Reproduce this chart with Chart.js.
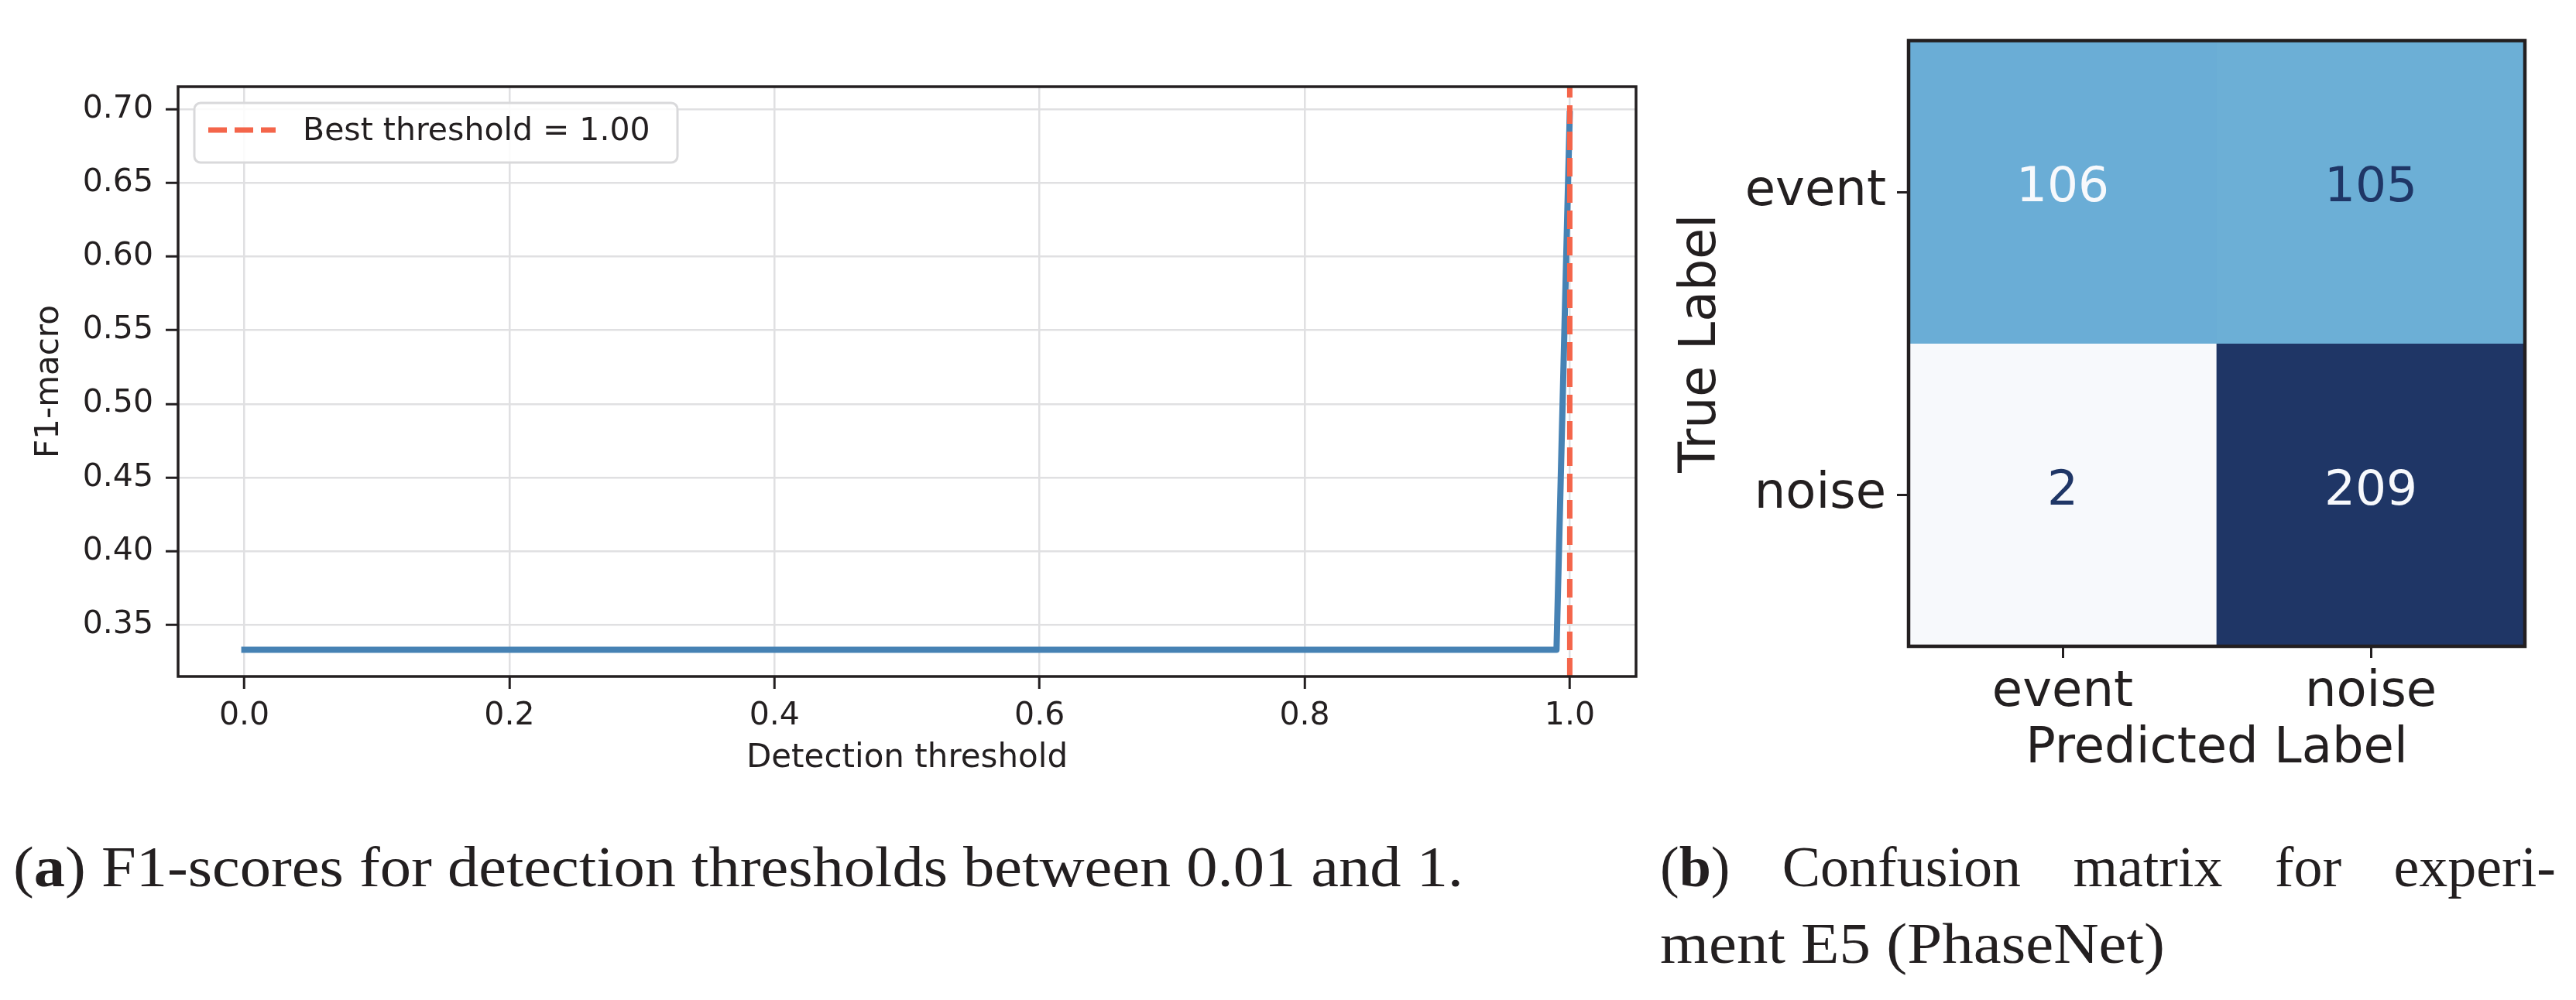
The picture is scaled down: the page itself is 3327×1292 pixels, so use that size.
<!DOCTYPE html>
<html>
<head>
<meta charset="utf-8">
<script src="https://cdn.jsdelivr.net/npm/chart.js@4.4.1/dist/chart.umd.min.js"></script>
<style>
  html, body { margin: 0; padding: 0; background: #fff; }
  #page { position: relative; width: 3327px; height: 1292px; overflow: hidden; background: #fff; }
  canvas { position: absolute; }
  .cap { position: absolute; font-family: "Liberation Serif", serif; font-size: 74px; line-height: 74px;
         color: #231f20; white-space: nowrap; transform-origin: 0 0; }
  #capB1 { display: flex; justify-content: space-between; width: 1157px; }
</style>
</head>
<body>
<div id="page">
  <canvas id="f1Chart" width="2200" height="1040" style="left:0;top:0"></canvas>
  <canvas id="cmChart" width="1207" height="1040" style="left:2120px;top:0"></canvas>
  <div class="cap" id="capA" style="left:17px;top:1083px" data-w="1873">(<b>a</b>) F1-scores for detection thresholds between 0.01 and 1.</div>
  <div class="cap" id="capB1" style="left:2144px;top:1083px"><span>(<b>b</b>)</span><span>Confusion</span><span>matrix</span><span>for</span><span>experi-</span></div>
  <div class="cap" id="capB2" style="left:2144px;top:1182px" data-w="652">ment E5 (PhaseNet)</div>
</div>
<script>
// ---- left panel: F1-macro vs detection threshold ----
var thresholds = [0.00, 0.10, 0.20, 0.30, 0.40, 0.50, 0.60, 0.70, 0.80, 0.90, 0.95, 0.99, 1.00];
var f1Macro    = [0.333, 0.333, 0.333, 0.333, 0.333, 0.333, 0.333, 0.333, 0.333, 0.333, 0.333, 0.333, 0.697];
var bestThreshold = 1.00;
var xTicks = [0.0, 0.2, 0.4, 0.6, 0.8, 1.0];
var yTicks = [0.35, 0.40, 0.45, 0.50, 0.55, 0.60, 0.65, 0.70];
var xLimits = [-0.05, 1.05];
var yLimits = [0.3148, 0.7155];

// ---- right panel: confusion matrix ----
var trueLabels = ['event', 'noise'];
var predLabels = ['event', 'noise'];
var cmValues = [
    [106, 105],
    [2, 209]
];

var INK = '#231f20';
var SANS = '"DejaVu Sans", sans-serif';
var blues = ['#f7f9fc', '#deebf7', '#c6dbef', '#9ecae1', '#6baed6', '#4292c6', '#2f6fb0', '#254f8c', '#1f3666'];

function hexToRgb(h) {
    return [parseInt(h.substr(1, 2), 16), parseInt(h.substr(3, 2), 16), parseInt(h.substr(5, 2), 16)];
}

function bluesColor(t) {
    t = Math.max(0, Math.min(1, t));
    var pos = t * (blues.length - 1);
    var i = Math.min(Math.floor(pos), blues.length - 2);
    var f = pos - i;
    var a = hexToRgb(blues[i]), b = hexToRgb(blues[i + 1]);
    var c = a.map(function (v, k) { return Math.round(v + (b[k] - v) * f); });
    return 'rgb(' + c.join(',') + ')';
}

function setTicks(list) {
    return function (scale) {
        scale.ticks = list.map(function (v) { return { value: v }; });
    };
}

function fixWidth(w) { return function (scale) { scale.width = w; }; }
function fixHeight(h) { return function (scale) { scale.height = h; }; }

Chart.defaults.font.family = SANS;
Chart.defaults.color = INK;

var framePlugin = {
    id: 'frame',
    afterDatasetsDraw: function (chart, args, opts) {
        var a = chart.chartArea, ctx = chart.ctx;
        ctx.save();
        ctx.strokeStyle = INK;
        ctx.lineWidth = opts.width || 3.5;
        ctx.strokeRect(a.left, a.top, a.right - a.left, a.bottom - a.top);
        ctx.restore();
    }
};

var legendPlugin = {
    id: 'innerLegend',
    afterDraw: function (chart) {
        var ds = chart.data.datasets[0];
        var a = chart.chartArea, ctx = chart.ctx;
        var x = a.left + 21, y = a.top + 21, w = 624, h = 77;
        ctx.save();
        ctx.beginPath();
        ctx.roundRect(x, y, w, h, 8);
        ctx.fillStyle = 'rgba(255,255,255,0.85)';
        ctx.fill();
        ctx.strokeStyle = '#d9d9db';
        ctx.lineWidth = 3;
        ctx.stroke();
        ctx.beginPath();
        ctx.setLineDash(ds.borderDash);
        ctx.strokeStyle = ds.borderColor;
        ctx.lineWidth = ds.borderWidth;
        ctx.moveTo(x + 18, y + 35);
        ctx.lineTo(x + 105, y + 35);
        ctx.stroke();
        ctx.setLineDash([]);
        ctx.fillStyle = INK;
        ctx.font = '41px ' + SANS;
        ctx.textBaseline = 'middle';
        ctx.fillText(ds.label, x + 140, y + 37);
        ctx.restore();
    }
};

var curve = thresholds.map(function (t, i) { return { x: t, y: f1Macro[i] }; });
var bestLine = [{ x: bestThreshold, y: yLimits[0] }, { x: bestThreshold, y: yLimits[1] }];

new Chart(document.getElementById('f1Chart'), {
    type: 'line',
    data: {
        datasets: [{
            label: 'Best threshold = ' + bestThreshold.toFixed(2),
            data: bestLine,
            borderColor: '#f4654a',
            borderWidth: 7,
            borderDash: [24, 10],
            pointRadius: 0,
            order: 0,
            clip: false
        }, {
            label: 'F1-macro',
            data: curve,
            borderColor: '#4682b4',
            borderWidth: 8,
            borderJoinStyle: 'round',
            borderCapStyle: 'square',
            pointRadius: 0,
            tension: 0,
            order: 1
        }]
    },
    plugins: [framePlugin, legendPlugin],
    options: {
        responsive: false,
        animation: false,
        devicePixelRatio: 1,
        layout: { padding: { left: 0, top: 112, right: 87, bottom: 6 } },
        plugins: {
            legend: { display: false },
            tooltip: { enabled: false },
            frame: { width: 3.5 }
        },
        scales: {
            x: {
                type: 'linear',
                min: xLimits[0],
                max: xLimits[1],
                afterBuildTicks: setTicks(xTicks),
                afterFit: fixHeight(160),
                grid: { color: '#e0e0e2', lineWidth: 2.5, tickColor: INK, tickWidth: 3, tickLength: 16 },
                border: { display: false },
                ticks: { font: { size: 41 }, padding: 11, maxRotation: 0,
                         callback: function (v) { return v.toFixed(1); } },
                title: { display: true, text: 'Detection threshold', font: { size: 42 },
                         padding: { top: 0, bottom: 29 } }
            },
            y: {
                type: 'linear',
                min: yLimits[0],
                max: yLimits[1],
                afterBuildTicks: setTicks(yTicks),
                afterFit: fixWidth(230),
                grid: { color: '#e0e0e2', lineWidth: 2.5, tickColor: INK, tickWidth: 3, tickLength: 16 },
                border: { display: false },
                ticks: { font: { size: 41 }, padding: 16,
                         callback: function (v) { return v.toFixed(2); } },
                title: { display: true, text: 'F1-macro', font: { size: 42 },
                         padding: { top: 39, bottom: 0 } }
            }
        }
    }
});

// confusion matrix: one floating-bar dataset per true-label row
var flat = [].concat.apply([], cmValues);
var vMin = Math.min.apply(null, flat), vMax = Math.max.apply(null, flat);
var vMid = (vMin + vMax) / 2;

var rowSets = trueLabels.map(function (name, i) {
    return {
        label: name,
        data: predLabels.map(function () { return [i - 0.5, i + 0.5]; }),
        backgroundColor: cmValues[i].map(function (v) { return bluesColor((v - vMin) / (vMax - vMin)); }),
        borderWidth: 0,
        grouped: false,
        categoryPercentage: 1,
        barPercentage: 1
    };
});

var cellTextPlugin = {
    id: 'cellText',
    afterDatasetsDraw: function (chart) {
        var ctx = chart.ctx, xs = chart.scales.x, ys = chart.scales.y;
        ctx.save();
        ctx.font = '63px ' + SANS;
        ctx.textAlign = 'center';
        ctx.textBaseline = 'middle';
        cmValues.forEach(function (row, i) {
            row.forEach(function (v, j) {
                ctx.fillStyle = v > vMid ? blues[0] : blues[blues.length - 1];
                ctx.fillText(String(v), xs.getPixelForValue(j), ys.getPixelForValue(i) - 4);
            });
        });
        ctx.restore();
    }
};

new Chart(document.getElementById('cmChart'), {
    type: 'bar',
    data: { labels: predLabels, datasets: rowSets },
    plugins: [cellTextPlugin, framePlugin],
    options: {
        responsive: false,
        animation: false,
        devicePixelRatio: 1,
        layout: { padding: { left: 0, top: 39.5, right: 66, bottom: 25 } },
        plugins: {
            legend: { display: false },
            tooltip: { enabled: false },
            frame: { width: 4.5 }
        },
        scales: {
            x: {
                type: 'category',
                afterFit: fixHeight(180),
                grid: { offset: false, drawOnChartArea: false, tickColor: INK, tickWidth: 3, tickLength: 15 },
                border: { display: false },
                ticks: { font: { size: 64 }, padding: 7, maxRotation: 0 },
                title: { display: true, text: 'Predicted Label', font: { size: 64 },
                         padding: { top: 0, bottom: 8 } }
            },
            y: {
                type: 'linear',
                min: -0.5,
                max: trueLabels.length - 0.5,
                reverse: true,
                afterBuildTicks: setTicks(trueLabels.map(function (_, i) { return i; })),
                afterFit: fixWidth(345),
                grid: { drawOnChartArea: false, tickColor: INK, tickWidth: 3, tickLength: 15 },
                border: { display: false },
                ticks: { font: { size: 64 }, padding: 14,
                         callback: function (v) { return trueLabels[v]; } },
                title: { display: true, text: 'True Label', font: { size: 65 },
                         padding: { top: 39, bottom: 0 } }
            }
        }
    }
});

// stretch the caption lines to the widths they take in the figure
['capA', 'capB2'].forEach(function (id) {
    var el = document.getElementById(id);
    var w = el.getBoundingClientRect().width;
    el.style.transform = 'scaleX(' + (parseFloat(el.dataset.w) / w) + ')';
});
</script>
</body>
</html>
